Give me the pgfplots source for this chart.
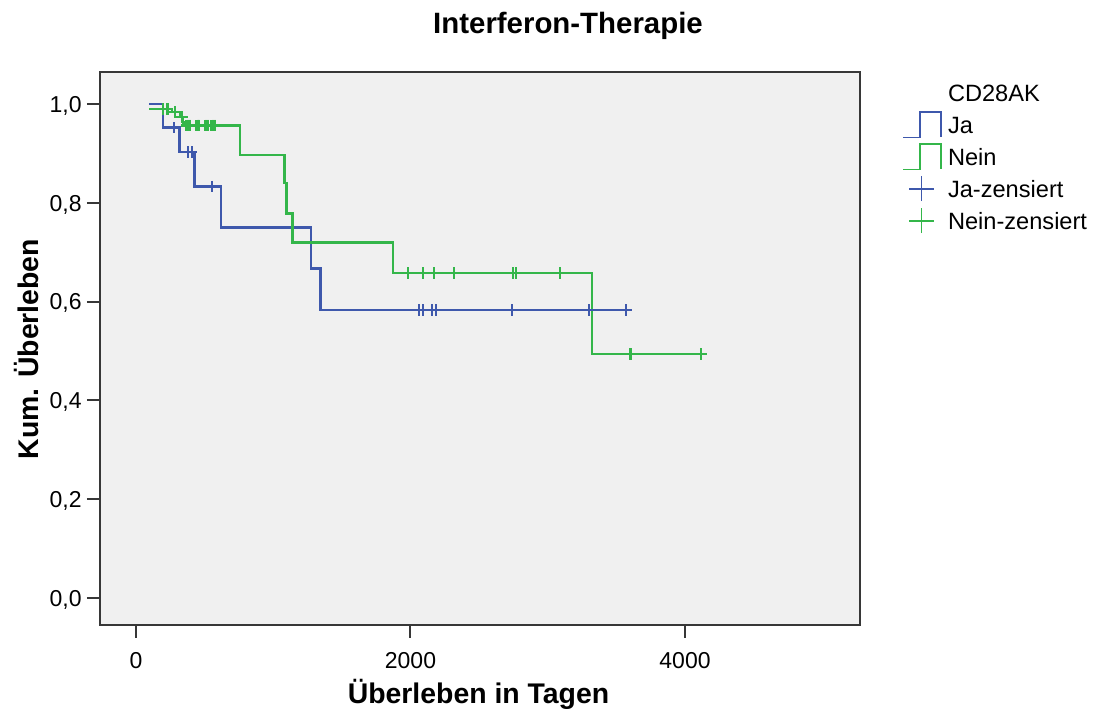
\documentclass[border=0pt]{standalone}
\usepackage{pgfplots}
\pgfplotsset{compat=1.18}
\usepackage{fontspec}
\setmainfont{Liberation Sans}

\definecolor{kmblue}{RGB}{62,88,172}
\definecolor{kmgreen}{RGB}{52,182,74}
\definecolor{frame}{RGB}{55,55,55}

\begin{document}
\begin{tikzpicture}
\begin{axis}[
  at={(50pt,43pt)}, anchor=south west,
  scale only axis, width=380pt, height=276.5pt,
  xmin=-262, xmax=5275, ymin=-0.055, ymax=1.065,
  axis background/.style={fill=black!6},
  axis line style={frame, line width=1pt},
  xtick={0,2000,4000}, ytick={0,0.2,0.4,0.6,0.8,1.0},
  xtick pos=bottom, ytick pos=left,
  tick align=outside, major tick length=6.5pt,
  tick style={frame, line width=1pt},
  /pgf/number format/assume math mode=true,
  tick label style={font=\fontsize{11.5}{13}\selectfont, inner sep=0pt, text height=8.2pt, text depth=0pt},
  xticklabel style={yshift=-7pt, /pgf/number format/set thousands separator={}},
  yticklabel style={xshift=-2.5pt, /pgf/number format/.cd, use comma, fixed, fixed zerofill, precision=1},
  title={Interferon-Therapie},
  title style={at={(0.6158,1.047)}, anchor=base, inner sep=0pt, font=\bfseries\fontsize{14.7}{16}\selectfont},
  xlabel={Überleben in Tagen},
  xlabel style={at={(0.498,-0.1425)}, anchor=base, inner sep=0pt, font=\bfseries\fontsize{14.2}{16}\selectfont},
  ylabel={Kum. Überleben},
  ylabel style={at={(-0.0805,0.499)}, anchor=base, inner sep=0pt, font=\bfseries\fontsize{14.2}{16}\selectfont},
  legend cell align=left,
  legend style={at={(1.0566,0.9747)}, anchor=north west, draw=none, fill=none,
    inner sep=0pt, outer sep=0pt, column sep=3.5pt, row sep=5pt,
    font=\fontsize{11.8}{13}\selectfont,
    cells={anchor=base west},
    nodes={inner sep=0pt, text height=8pt, text depth=3pt}},
]
% legend entries
\addlegendimage{empty legend}
\addlegendentry{CD28AK}
\addlegendimage{legend image code/.code={
  \draw[overlay, kmblue, line width=0.9pt] (0pt,-1.8pt) -- (8.5pt,-1.8pt) -- (8.5pt,10.8pt) -- (19pt,10.8pt) -- (19pt,-1.3pt);
  \path[draw=none, fill=none] (0pt,0pt) -- (19pt,0pt);}}
\addlegendentry{Ja}
\addlegendimage{legend image code/.code={
  \draw[overlay, kmgreen, line width=0.9pt] (0pt,-1.8pt) -- (8.5pt,-1.8pt) -- (8.5pt,10.8pt) -- (19pt,10.8pt) -- (19pt,-1.3pt);
  \path[draw=none, fill=none] (0pt,0pt) -- (19pt,0pt);}}
\addlegendentry{Nein}
\addlegendimage{legend image code/.code={
  \draw[overlay, kmblue, line width=0.8pt] (3.1pt,4.6pt) -- (15.5pt,4.6pt) (9.3pt,-1.6pt) -- (9.3pt,10.8pt);
  \path[draw=none, fill=none] (0pt,0pt) -- (19pt,0pt);}}
\addlegendentry{Ja-zensiert}
\addlegendimage{legend image code/.code={
  \draw[overlay, kmgreen, line width=0.8pt] (3.1pt,4.6pt) -- (15.5pt,4.6pt) (9.3pt,-1.6pt) -- (9.3pt,10.8pt);
  \path[draw=none, fill=none] (0pt,0pt) -- (19pt,0pt);}}
\addlegendentry{Nein-zensiert}

% Kaplan-Meier curve, CD28AK = Ja
\addplot[const plot, kmblue, line width=1.4pt, forget plot] coordinates {
  (95,1.000) (197,0.952) (320,0.903) (425,0.833) (619,0.750)
  (1275,0.667) (1346,0.583) (3570,0.583)
};
% Kaplan-Meier curve, CD28AK = Nein
\addplot[const plot, kmgreen, line width=1.4pt, forget plot] coordinates {
  (95,0.990) (262,0.984) (321,0.974) (342,0.962) (360,0.957)
  (758,0.897) (1080,0.840) (1098,0.779) (1141,0.719) (1872,0.658)
  (3323,0.494) (4116,0.494)
};
% censored cases, Ja
\addplot[only marks, mark=+, mark size=2.8pt, kmblue, line width=1pt, forget plot] coordinates {
  (277,0.952) (376,0.903) (405,0.903) (551,0.833)
  (2062,0.583) (2091,0.583) (2157,0.583) (2186,0.583)
  (2740,0.583) (3300,0.583) (3570,0.583)
};
% censored cases, Nein
\addplot[only marks, mark=+, mark size=2.8pt, kmgreen, line width=1.2pt, forget plot] coordinates {
  (195,0.990) (230,0.990) (284,0.984) (335,0.974)
  (368,0.957) (375,0.957) (382,0.957) (389,0.957)
  (440,0.957) (447,0.957) (454,0.957) (461,0.957)
  (505,0.957) (512,0.957) (519,0.957) (526,0.957)
  (550,0.957) (557,0.957) (564,0.957) (571,0.957)
  (1980,0.658) (2089,0.658) (2171,0.658) (2317,0.658)
  (2745,0.658) (2769,0.658) (3089,0.658)
  (3599,0.494) (3607,0.494) (4116,0.494)
};
\end{axis}
\pgfresetboundingbox
\path[use as bounding box] (0,0) rectangle (548pt,355.5pt);
\end{tikzpicture}
\end{document}
